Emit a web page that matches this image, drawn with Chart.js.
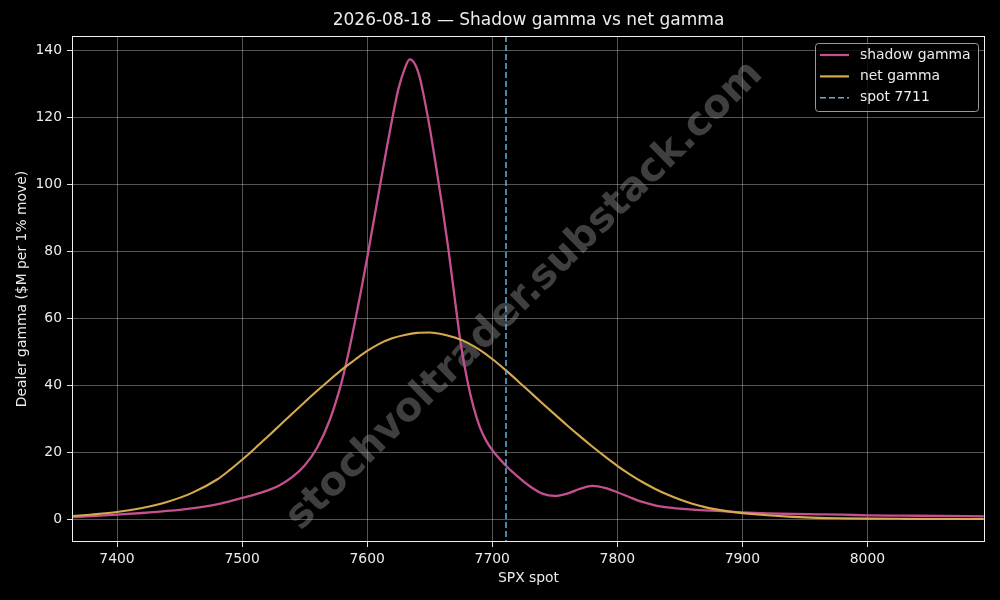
<!DOCTYPE html>
<html>
<head>
<meta charset="utf-8">
<title>Shadow gamma vs net gamma</title>
<script src="https://cdn.jsdelivr.net/npm/chart.js@4/dist/chart.umd.min.js"></script>
<style>
  html, body { margin: 0; padding: 0; background: #000; }
  #wrap { width: 1000px; height: 600px; }
</style>
</head>
<body>
<div id="wrap"><canvas id="gammaChart" width="1000" height="600"></canvas></div>
<script>
// values
var chartTitle = '2026-08-18 \u2014 Shadow gamma vs net gamma';
var spot = 7711;

var shadowX = [7365, 7380, 7400, 7420, 7440, 7460, 7480, 7490, 7500, 7510, 7520, 7530, 7540, 7550,
  7560, 7570, 7580, 7585, 7590, 7595, 7600, 7605, 7610, 7615, 7620, 7625, 7630, 7634, 7638, 7642,
  7646, 7650, 7655, 7660, 7665, 7670, 7675, 7680, 7685, 7690, 7695, 7700, 7710, 7720, 7730, 7740,
  7750, 7760, 7770, 7780, 7790, 7800, 7810, 7820, 7830, 7840, 7850, 7860, 7870, 7880, 7890, 7900,
  7920, 7940, 7960, 7980, 8000, 8030, 8060, 8093];
var shadowGamma = [0.6, 0.9, 1.3, 1.8, 2.4, 3.2, 4.4, 5.3, 6.3, 7.3, 8.5, 10.1, 12.5, 16.0,
  21.3, 29.5, 41.5, 49.5, 58.5, 68, 78, 88.5, 99, 109.5, 119.5, 128.5, 134.5, 137.3, 136, 132,
  125, 117, 105.5, 93.5, 80.5, 66, 52, 41.5, 33.5, 27.5, 23.5, 20.6, 16.3, 12.8, 9.8, 7.6,
  6.9, 7.6, 9.0, 9.9, 9.3, 8.0, 6.5, 5.1, 4.1, 3.5, 3.1, 2.8, 2.6, 2.4, 2.2, 2.0,
  1.7, 1.5, 1.4, 1.3, 1.1, 1.0, 0.9, 0.8];

var netX = [7365, 7380, 7400, 7420, 7440, 7460, 7480, 7490, 7500, 7510, 7520, 7530, 7540, 7550,
  7560, 7570, 7580, 7590, 7600, 7610, 7620, 7630, 7640, 7650, 7660, 7670, 7680, 7690, 7700, 7710,
  7720, 7730, 7740, 7750, 7760, 7770, 7780, 7790, 7800, 7810, 7820, 7830, 7840, 7850, 7860, 7870,
  7880, 7890, 7900, 7920, 7940, 7960, 7980, 8000, 8030, 8060, 8093];
var netGamma = [0.9, 1.35, 2.1, 3.3, 5.1, 7.8, 11.8, 14.6, 17.7, 21.0, 24.45, 27.95, 31.45, 34.9,
  38.3, 41.55, 44.7, 47.5, 50.2, 52.4, 54.0, 55.0, 55.6, 55.7, 55.2, 54.2, 52.7, 50.5, 47.8, 44.7,
  41.4, 38.0, 34.6, 31.25, 27.95, 24.75, 21.65, 18.7, 15.9, 13.35, 11.05, 9.05, 7.3, 5.8, 4.55, 3.55,
  2.8, 2.2, 1.75, 1.1, 0.65, 0.35, 0.2, 0.1, 0.05, 0.02, 0.01];

var seriesNames = ['shadow gamma', 'net gamma', 'spot ' + spot];
var seriesColors = ['#c4508f', '#d6a94e', '#62b2d6'];

var xMin = 7364, xMax = 8094;
var yMin = -6.87, yMax = 144.3;

var textColor = '#ececec';
var gridColor = 'rgba(255,255,255,0.33)';
var fontFam = '"DejaVu Sans", Verdana, sans-serif';

function toPoints(xs, ys) {
  return xs.map(function (x, i) { return { x: x, y: ys[i] }; });
}

// black page, white frame, spot line, watermark, legend inside the plot
var decor = {
  id: 'decor',
  beforeDraw: function (chart) {
    var c = chart.ctx;
    c.save();
    c.fillStyle = '#000';
    c.fillRect(0, 0, chart.width, chart.height);
    c.restore();
  },
  beforeDatasetsDraw: function (chart) {
    var c = chart.ctx, a = chart.chartArea;
    c.save();
    c.beginPath();
    c.rect(a.left, a.top, a.right - a.left, a.bottom - a.top);
    c.clip();
    c.translate(525, 296);
    c.rotate(-44.5 * Math.PI / 180);
    c.font = 'bold 40px ' + fontFam;
    c.fillStyle = 'rgba(150,150,150,0.42)';
    c.textAlign = 'center';
    c.textBaseline = 'middle';
    c.fillText('stochvoltrader.substack.com', 0, 0);
    c.restore();
  },
  afterDatasetsDraw: function (chart) {
    var c = chart.ctx, a = chart.chartArea;
    var sx = chart.scales.x.getPixelForValue(spot);
    c.save();
    c.strokeStyle = seriesColors[2];
    c.lineWidth = 1.5;
    c.setLineDash([6, 3]);
    c.beginPath();
    c.moveTo(sx, a.top);
    c.lineTo(sx, a.bottom);
    c.stroke();
    c.restore();
  },
  afterDraw: function (chart) {
    var c = chart.ctx, a = chart.chartArea;
    c.save();
    c.strokeStyle = '#f0f0f0';
    c.lineWidth = 1;
    c.strokeRect(Math.round(a.left) + 0.5, Math.round(a.top) + 0.5,
      Math.round(a.right - a.left) - 1, Math.round(a.bottom - a.top) - 1);

    // legend
    var bw = 163, bh = 68;
    var bx = a.right - 7 - bw, by = a.top + 7;
    c.fillStyle = 'rgba(0,0,0,0.8)';
    c.strokeStyle = '#9a9a9a';
    c.lineWidth = 1;
    c.beginPath();
    c.roundRect(bx + 0.5, by + 0.5, bw, bh, 3);
    c.fill();
    c.stroke();
    c.font = '13.9px ' + fontFam;
    c.textBaseline = 'middle';
    c.textAlign = 'left';
    for (var i = 0; i < seriesNames.length; i++) {
      var ly = by + 12 + i * 21.4;
      c.strokeStyle = seriesColors[i];
      c.lineWidth = i == 2 ? 1.5 : 2.2;
      c.setLineDash(i == 2 ? [6, 3] : []);
      c.beginPath();
      c.moveTo(bx + 5, ly);
      c.lineTo(bx + 34, ly);
      c.stroke();
      c.fillStyle = textColor;
      c.fillText(seriesNames[i], bx + 45, ly);
    }
    c.restore();
  }
};

var ctx = document.getElementById('gammaChart').getContext('2d');
var myChart = new Chart(ctx, {
  type: 'line',
  data: {
    datasets: [{
      label: seriesNames[0],
      data: toPoints(shadowX, shadowGamma),
      borderColor: seriesColors[0],
      borderWidth: 2.3,
      pointRadius: 0,
      cubicInterpolationMode: 'monotone',
      order: 1
    }, {
      label: seriesNames[1],
      data: toPoints(netX, netGamma),
      borderColor: seriesColors[1],
      borderWidth: 2.1,
      pointRadius: 0,
      cubicInterpolationMode: 'monotone',
      order: 0
    }]
  },
  options: {
    responsive: false,
    animation: false,
    devicePixelRatio: 1,
    layout: { padding: { left: 0, right: 15, top: 0, bottom: 0 } },
    plugins: {
      legend: { display: false },
      tooltip: { enabled: false },
      title: {
        display: true,
        fullSize: false,
        text: chartTitle,
        color: textColor,
        font: { family: fontFam, size: 17, weight: 'normal' },
        padding: { top: 10, bottom: 5.6 }
      }
    },
    scales: {
      x: {
        type: 'linear',
        min: xMin,
        max: xMax,
        afterFit: function (s) { s.height = 58; },
        ticks: {
          stepSize: 100,
          includeBounds: false,
          color: textColor,
          padding: 4,
          font: { family: fontFam, size: 13.9 },
          callback: function (v) { return String(v); }
        },
        grid: { color: gridColor, tickColor: '#e0e0e0', tickLength: 5 },
        border: { display: false },
        title: {
          display: true,
          text: 'SPX spot',
          color: textColor,
          font: { family: fontFam, size: 13.9 },
          padding: { top: 0, bottom: 13 }
        }
      },
      y: {
        type: 'linear',
        min: yMin,
        max: yMax,
        afterFit: function (s) { s.width = 72; },
        ticks: {
          stepSize: 20,
          includeBounds: false,
          color: textColor,
          padding: 5,
          font: { family: fontFam, size: 13.9 }
        },
        grid: { color: gridColor, tickColor: '#e0e0e0', tickLength: 5 },
        border: { display: false },
        title: {
          display: true,
          text: 'Dealer gamma ($M per 1% move)',
          color: textColor,
          font: { family: fontFam, size: 13.9 },
          padding: { top: 14, bottom: 0 }
        }
      }
    }
  },
  plugins: [decor]
});
</script>
</body>
</html>
